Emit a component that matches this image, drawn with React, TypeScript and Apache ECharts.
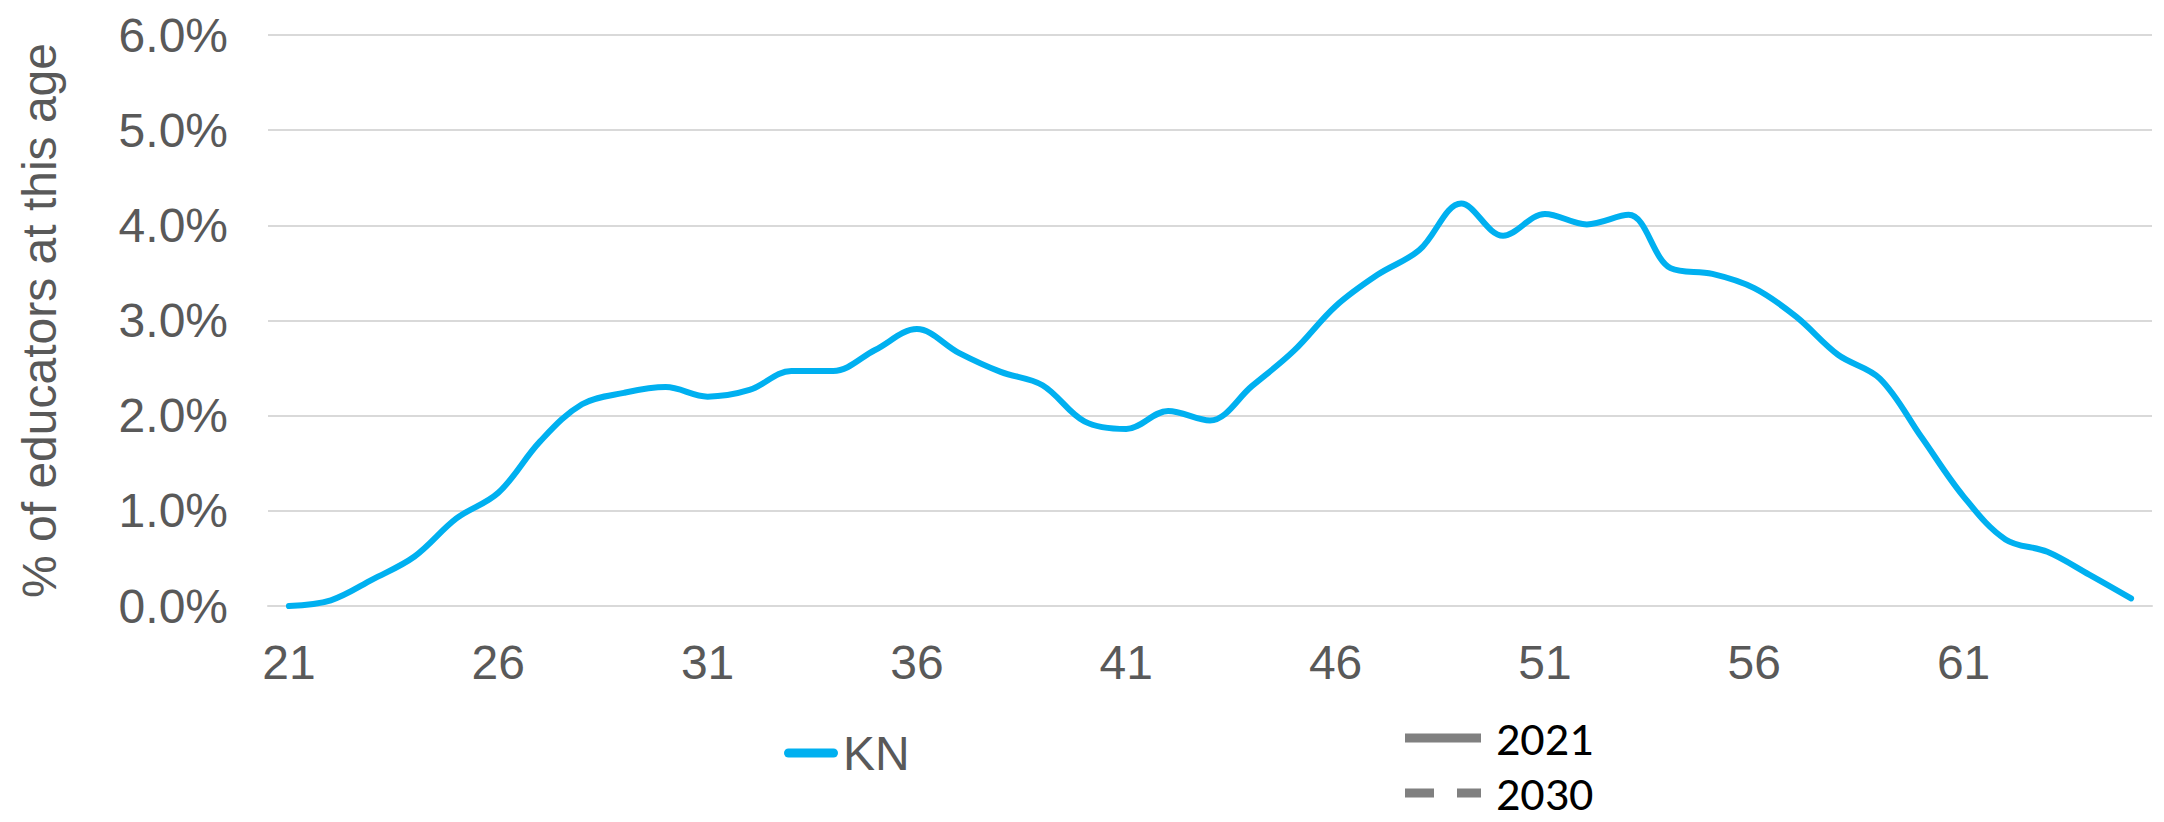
import React, { useEffect, useRef } from "react";
import * as echarts from "echarts";

// Age of educator (one category per year of age)
const ages = [
  "21", "22", "23", "24", "25", "26", "27", "28", "29", "30",
  "31", "32", "33", "34", "35", "36", "37", "38", "39", "40",
  "41", "42", "43", "44", "45", "46", "47", "48", "49", "50",
  "51", "52", "53", "54", "55", "56", "57", "58", "59", "60",
  "61", "62", "63", "64", "65",
];

// Share of KN educators at each age, in percent
const knShare = [
  0.0, 0.06, 0.28, 0.52, 0.92, 1.19, 1.73, 2.12, 2.24, 2.3,
  2.2, 2.27, 2.47, 2.47, 2.69, 2.91, 2.66, 2.46, 2.32, 1.94,
  1.86, 2.05, 1.95, 2.31, 2.68, 3.15, 3.48, 3.74, 4.23, 3.89,
  4.12, 4.01, 4.11, 3.55, 3.49, 3.34, 3.04, 2.64, 2.39, 1.77,
  1.15, 0.7, 0.57, 0.33, 0.08,
];

// Year key entries (style legend only)
const yearSolid = "2021";
const yearDashed = "2030";

const yMin = 0;
const yMax = 6;
const yStep = 1;

const ARIAL = "'Liberation Sans', Arial, sans-serif";
const NARROW = "Carlito, 'Liberation Sans Narrow', 'DejaVu Sans Condensed', sans-serif";
const GREY_TEXT = "#595959";
const KN_BLUE = "#00B0F0";
const KEY_GREY = "#808080";

// Legend icon shapes: rounded stroke, solid bar, and two-dash bar
const ICON_ROUND = "path://M4.5 0H49.5A4.5 4.5 0 0 1 49.5 9H4.5A4.5 4.5 0 0 1 4.5 0Z";
const ICON_SOLID = "path://M0 0H76V9H0Z";
const ICON_DASHED = "path://M0 0H29V9H0ZM52 0H76V9H52Z";

export default function App() {
  const ref = useRef<HTMLDivElement>(null);

  useEffect(() => {
    if (!ref.current) return;
    const chart = echarts.init(ref.current, null, { renderer: "svg" });

    const yearLegend = (name: string, icon: string, top: number) => ({
      data: [{ name, icon }],
      left: 1405,
      top,
      padding: 0,
      itemWidth: 76,
      itemHeight: 9,
      textStyle: {
        color: "#000000",
        fontFamily: NARROW,
        fontSize: 48,
        lineHeight: 40,
        padding: [0, 0, 0, 10],
      },
      selectedMode: false,
    });

    chart.setOption({
      animation: false,
      backgroundColor: "#ffffff",
      grid: { left: 268, right: 12, top: 35, bottom: 216 },
      xAxis: {
        type: "category",
        data: ages,
        boundaryGap: true,
        axisLine: { show: true, lineStyle: { color: "#D9D9D9", width: 2 } },
        axisTick: { show: false },
        axisLabel: {
          interval: 4,
          margin: 32,
          color: GREY_TEXT,
          fontFamily: ARIAL,
          fontSize: 48,
        },
        splitLine: { show: false },
      },
      yAxis: {
        type: "value",
        min: yMin,
        max: yMax,
        interval: yStep,
        name: "% of educators at this age",
        nameLocation: "middle",
        nameRotate: 90,
        nameGap: 205,
        nameTextStyle: { color: GREY_TEXT, fontFamily: ARIAL, fontSize: 48 },
        axisLine: { show: false },
        axisTick: { show: false },
        axisLabel: {
          margin: 40,
          color: GREY_TEXT,
          fontFamily: ARIAL,
          fontSize: 48,
          formatter: (v: number) => `${v.toFixed(1)}%`,
        },
        splitLine: { lineStyle: { color: "#D9D9D9", width: 2 } },
      },
      legend: [
        {
          data: [{ name: "KN", icon: ICON_ROUND }],
          left: 784,
          top: 729,
          padding: 0,
          itemWidth: 54,
          itemHeight: 9,
          textStyle: { color: GREY_TEXT, fontFamily: ARIAL, fontSize: 48 },
          selectedMode: false,
        },
        yearLegend(yearSolid, ICON_SOLID, 714),
        yearLegend(yearDashed, ICON_DASHED, 769),
      ],
      series: [
        {
          name: "KN",
          type: "line",
          data: knShare,
          smooth: 0.35,
          symbol: "none",
          showSymbol: false,
          lineStyle: { color: KN_BLUE, width: 6, cap: "round" },
          itemStyle: { color: KN_BLUE },
        },
        {
          name: yearSolid,
          type: "line",
          data: [],
          symbol: "none",
          lineStyle: { color: KEY_GREY, width: 9 },
          itemStyle: { color: KEY_GREY },
        },
        {
          name: yearDashed,
          type: "line",
          data: [],
          symbol: "none",
          lineStyle: { color: KEY_GREY, width: 9, type: [29, 23] },
          itemStyle: { color: KEY_GREY },
        },
      ],
    });

    return () => chart.dispose();
  }, []);

  return (
    <div
      ref={ref}
      style={{ position: "fixed", left: 0, top: 0, width: 2164, height: 822, background: "#fff" }}
    />
  );
}
